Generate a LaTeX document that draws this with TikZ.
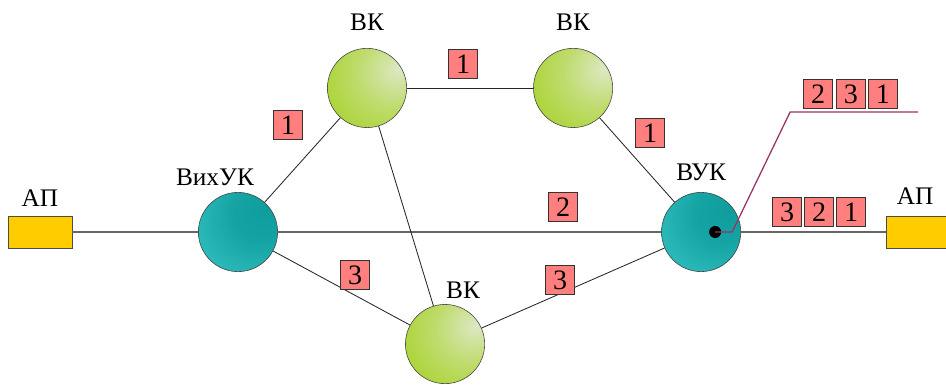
\documentclass[tikz,border=0pt]{standalone}
\usepackage{fontspec}
\setmainfont{Liberation Serif}
\usetikzlibrary{positioning}
\definecolor{vkgreen}{HTML}{99CC00}
\definecolor{vklight}{HTML}{DDE8C4}
\definecolor{uklight}{HTML}{3CCACA}
\definecolor{ukdark}{HTML}{0E9C9C}
\definecolor{apyellow}{HTML}{FFCC00}
\definecolor{chpink}{HTML}{FF7F7F}
\definecolor{routepurple}{HTML}{993366}
\pgfdeclareradialshading{vkball}{\pgfpoint{20bp}{12bp}}{%
  color(0bp)=(vklight); color(22bp)=(vkgreen!45!vklight);
  color(60bp)=(vkgreen); color(100bp)=(vkgreen)}
\pgfdeclareradialshading{ukball}{\pgfpoint{18bp}{14bp}}{%
  color(0bp)=(ukdark); color(18bp)=(ukdark!85!uklight);
  color(55bp)=(uklight); color(100bp)=(uklight)}

\begin{document}
\begin{tikzpicture}[
  x=0.025cm, y=-0.025cm, on grid,
  vknode/.style={circle, draw=black!75, minimum size=1.98cm, inner sep=0pt,
                 shading=vkball},
  uknode/.style={circle, draw=black!75, minimum size=1.98cm, inner sep=0pt,
                 shading=ukball},
  apnode/.style={rectangle, draw=black!70, fill=apyellow, minimum width=1.6cm,
                 minimum height=0.8cm, inner sep=0pt},
  chan/.style={rectangle, draw=black!80, fill=chpink, minimum size=0.72cm,
               inner sep=0pt, font=\fontsize{20}{22}\selectfont},
  tag/.style={font=\fontsize{18}{20}\selectfont, inner sep=0pt},
  link/.style={draw=black!85, line width=0.6pt},
  trunk/.style={draw=black!60, line width=0.9pt}
]
\useasboundingbox (0,0) rectangle (946,387);

\node[uknode] (vix) at (238,232) {};
\node[vknode, above right=3.6cm and 3.225cm of vix] (vk1) {};
\node[vknode, right=5.15cm of vk1] (vk2) {};
\node[vknode, below right=2.8cm and 5.175cm of vix] (vk3) {};
\node[uknode, right=11.575cm of vix] (vuk) {};
\node[apnode, left=4.95cm of vix] (ap1) {};
\node[apnode, right=5.425cm of vuk] (ap2) {};

% labels
\node[tag, above=1.65cm of vk1] {ВК};
\node[tag, above=1.65cm of vk2] {ВК};
\node[tag, above right=1.35cm and 0.45cm of vk3] {ВК};
\node[tag, above left=1.375cm and 0.575cm of vix] {ВихУК};
\node[tag, above=1.5cm of vuk] {ВУК};
\node[tag, above=0.85cm of ap1] {АП};
\node[tag, above left=0.9cm and 0.075cm of ap2] {АП};

% links
\draw[trunk] (ap1) -- (vix);
\draw[trunk] (vix) -- (vuk);
\draw[trunk] (vuk) -- (ap2);
\draw[link] (vix) -- (vk1);
\draw[link] (vk1) -- (vk2);
\draw[link] (vk2) -- (vuk);
\draw[link] (vk1) -- (vk3);
\draw[link] (vix) -- (vk3);
\draw[link] (vk3) -- (vuk);

% channel numbers
\node[chan, above right=2.675cm and 1.25cm of vix] (c1a) {1};
\node[chan, above right=0.6cm and 2.4cm of vk1] (c1b) {1};
\node[chan, below right=1.125cm and 1.925cm of vk2] (c1c) {1};
\node[chan, above left=0.625cm and 3.45cm of vuk] (c2) {2};
\node[chan, below right=1.075cm and 2.925cm of vix] (c3a) {3};
\node[chan, above right=1.6cm and 2.875cm of vk3] (c3b) {3};

\node[chan, above right=0.5cm and 2.15cm of vuk] (o3) {3};
\node[chan, right=0.8cm of o3] (o2) {2};
\node[chan, right=0.8cm of o2] (o1) {1};

\node[chan, above right=3.45cm and 2.925cm of vuk] (i2) {2};
\node[chan, right=0.82cm of i2] (i3) {3};
\node[chan, right=0.8cm of i3] (i1) {1};

% switching point
\coordinate[right=0.35cm of vuk] (sw);
\coordinate[above right=3cm and 5.425cm of vuk] (tail);
\fill (sw) circle (0.15cm);
\draw[routepurple, line width=0.9pt] (sw) -- ++(0.425cm,0) -- ++(1.45cm,3cm) -- (tail);
\end{tikzpicture}
\end{document}
